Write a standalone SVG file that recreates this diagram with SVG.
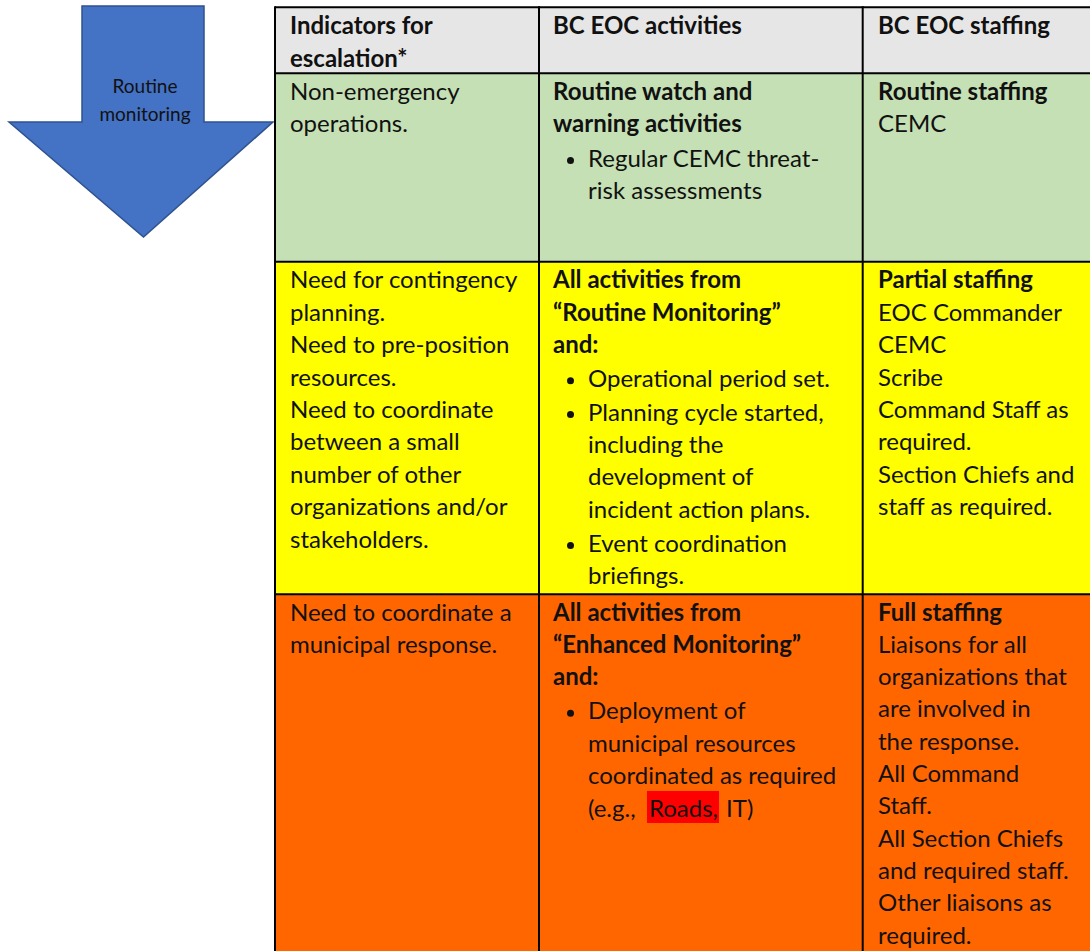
<svg xmlns="http://www.w3.org/2000/svg" width="1090" height="951" viewBox="0 0 1090 951">
<style>
.t{font-family:Lato,"Open Sans","Liberation Sans",sans-serif;font-size:24px;fill:#111}
.b{font-weight:bold}
.a{font-family:Lato,"Open Sans","Liberation Sans",sans-serif;font-size:19px;fill:#111;text-anchor:middle}
.grid{stroke:#000;stroke-width:2;fill:none}
</style>
<rect width="1090" height="951" fill="#fff"/>
<g id="arrow">
<polygon points="82,6 204,6 204,122 273,122 143.5,237 9,122 82,122" fill="#4472C4" stroke="#2F528F" stroke-width="1.5" stroke-linejoin="miter"/>
<text class="a" x="145" y="93">Routine</text>
<text class="a" x="145" y="120.5">monitoring</text>
</g>
<g id="table">
<rect x="275" y="7.3" width="815" height="66" fill="#E7E6E6"/>
<rect x="275" y="73.3" width="815" height="188.4" fill="#C5E0B4"/>
<rect x="275" y="261.7" width="815" height="332.6" fill="#FFFF00"/>
<rect x="275" y="594.3" width="815" height="357" fill="#FF6600"/>
<rect x="647" y="791" width="72" height="32" fill="#FF0000"/>
<g class="grid">
<line x1="275" y1="7.3" x2="1090" y2="7.3"/>
<line x1="275" y1="73.3" x2="1090" y2="73.3"/>
<line x1="275" y1="261.7" x2="1090" y2="261.7"/>
<line x1="275" y1="594.3" x2="1090" y2="594.3"/>
<line x1="275" y1="6.3" x2="275" y2="951"/>
<line x1="539" y1="6.3" x2="539" y2="951"/>
<line x1="862.7" y1="6.3" x2="862.7" y2="951"/>
</g>
</g>
<g id="header">
<text class="t b" x="290" y="34">Indicators for</text>
<text class="t b" x="290" y="66.5">escalation*</text>
<text class="t b" x="553" y="34">BC EOC activities</text>
<text class="t b" x="878" y="34">BC EOC staffing</text>
</g>
<g id="row-routine">
<text class="t" x="290" y="100">Non-emergency</text>
<text class="t" x="290" y="132.4">operations.</text>
<text class="t b" x="553" y="100">Routine watch and</text>
<text class="t b" x="553" y="132.4">warning activities</text>
<circle cx="570.5" cy="160.5" r="3.5" fill="#111"/>
<text class="t" x="588" y="166.5">Regular CEMC threat-</text>
<text class="t" x="588" y="199">risk assessments</text>
<text class="t b" x="878" y="100">Routine staffing</text>
<text class="t" x="878" y="132.4">CEMC</text>
</g>
<g id="row-enhanced">
<text class="t" x="290" y="288.3">Need for contingency</text>
<text class="t" x="290" y="320.7">planning.</text>
<text class="t" x="290" y="353.1">Need to pre-position</text>
<text class="t" x="290" y="385.5">resources.</text>
<text class="t" x="290" y="417.9">Need to coordinate</text>
<text class="t" x="290" y="450.3">between a small</text>
<text class="t" x="290" y="482.7">number of other</text>
<text class="t" x="290" y="515.1">organizations and/or</text>
<text class="t" x="290" y="547.5">stakeholders.</text>
<text class="t b" x="553" y="288.3">All activities from</text>
<text class="t b" x="553" y="320.7">“Routine Monitoring”</text>
<text class="t b" x="553" y="353.1">and:</text>
<circle cx="570.5" cy="380.7" r="3.5" fill="#111"/>
<text class="t" x="588" y="386.7">Operational period set.</text>
<circle cx="570.5" cy="414.5" r="3.5" fill="#111"/>
<text class="t" x="588" y="420.5">Planning cycle started,</text>
<text class="t" x="588" y="452.9">including the</text>
<text class="t" x="588" y="485.3">development of</text>
<text class="t" x="588" y="517.7">incident action plans.</text>
<circle cx="570.5" cy="545.5" r="3.5" fill="#111"/>
<text class="t" x="588" y="551.5">Event coordination</text>
<text class="t" x="588" y="583.9">briefings.</text>
<text class="t b" x="878" y="288.3">Partial staffing</text>
<text class="t" x="878" y="320.7">EOC Commander</text>
<text class="t" x="878" y="353.1">CEMC</text>
<text class="t" x="878" y="385.5">Scribe</text>
<text class="t" x="878" y="417.9">Command Staff as</text>
<text class="t" x="878" y="450.3">required.</text>
<text class="t" x="878" y="482.7">Section Chiefs and</text>
<text class="t" x="878" y="515.1">staff as required.</text>
</g>
<g id="row-full">
<text class="t" x="290" y="620.5">Need to coordinate a</text>
<text class="t" x="290" y="652.9">municipal response.</text>
<text class="t b" x="553" y="620.5">All activities from</text>
<text class="t b" x="553" y="652.9">“Enhanced Monitoring”</text>
<text class="t b" x="553" y="685.3">and:</text>
<circle cx="570.5" cy="713.3" r="3.5" fill="#111"/>
<text class="t" x="588" y="719.3">Deployment of</text>
<text class="t" x="588" y="751.7">municipal resources</text>
<text class="t" x="588" y="784.1">coordinated as required</text>
<text class="t" x="588" y="816.5">(e.g.,</text>
<text class="t" x="649" y="816.5">Roads,</text>
<text class="t" x="726" y="816.5">IT)</text>
<text class="t b" x="878" y="620.5">Full staffing</text>
<text class="t" x="878" y="652.8">Liaisons for all</text>
<text class="t" x="878" y="685.1">organizations that</text>
<text class="t" x="878" y="717.4">are involved in</text>
<text class="t" x="878" y="749.7">the response.</text>
<text class="t" x="878" y="782">All Command</text>
<text class="t" x="878" y="814.3">Staff.</text>
<text class="t" x="878" y="846.6">All Section Chiefs</text>
<text class="t" x="878" y="878.9">and required staff.</text>
<text class="t" x="878" y="911.2">Other liaisons as</text>
<text class="t" x="878" y="943.5">required.</text>
</g>
</svg>
